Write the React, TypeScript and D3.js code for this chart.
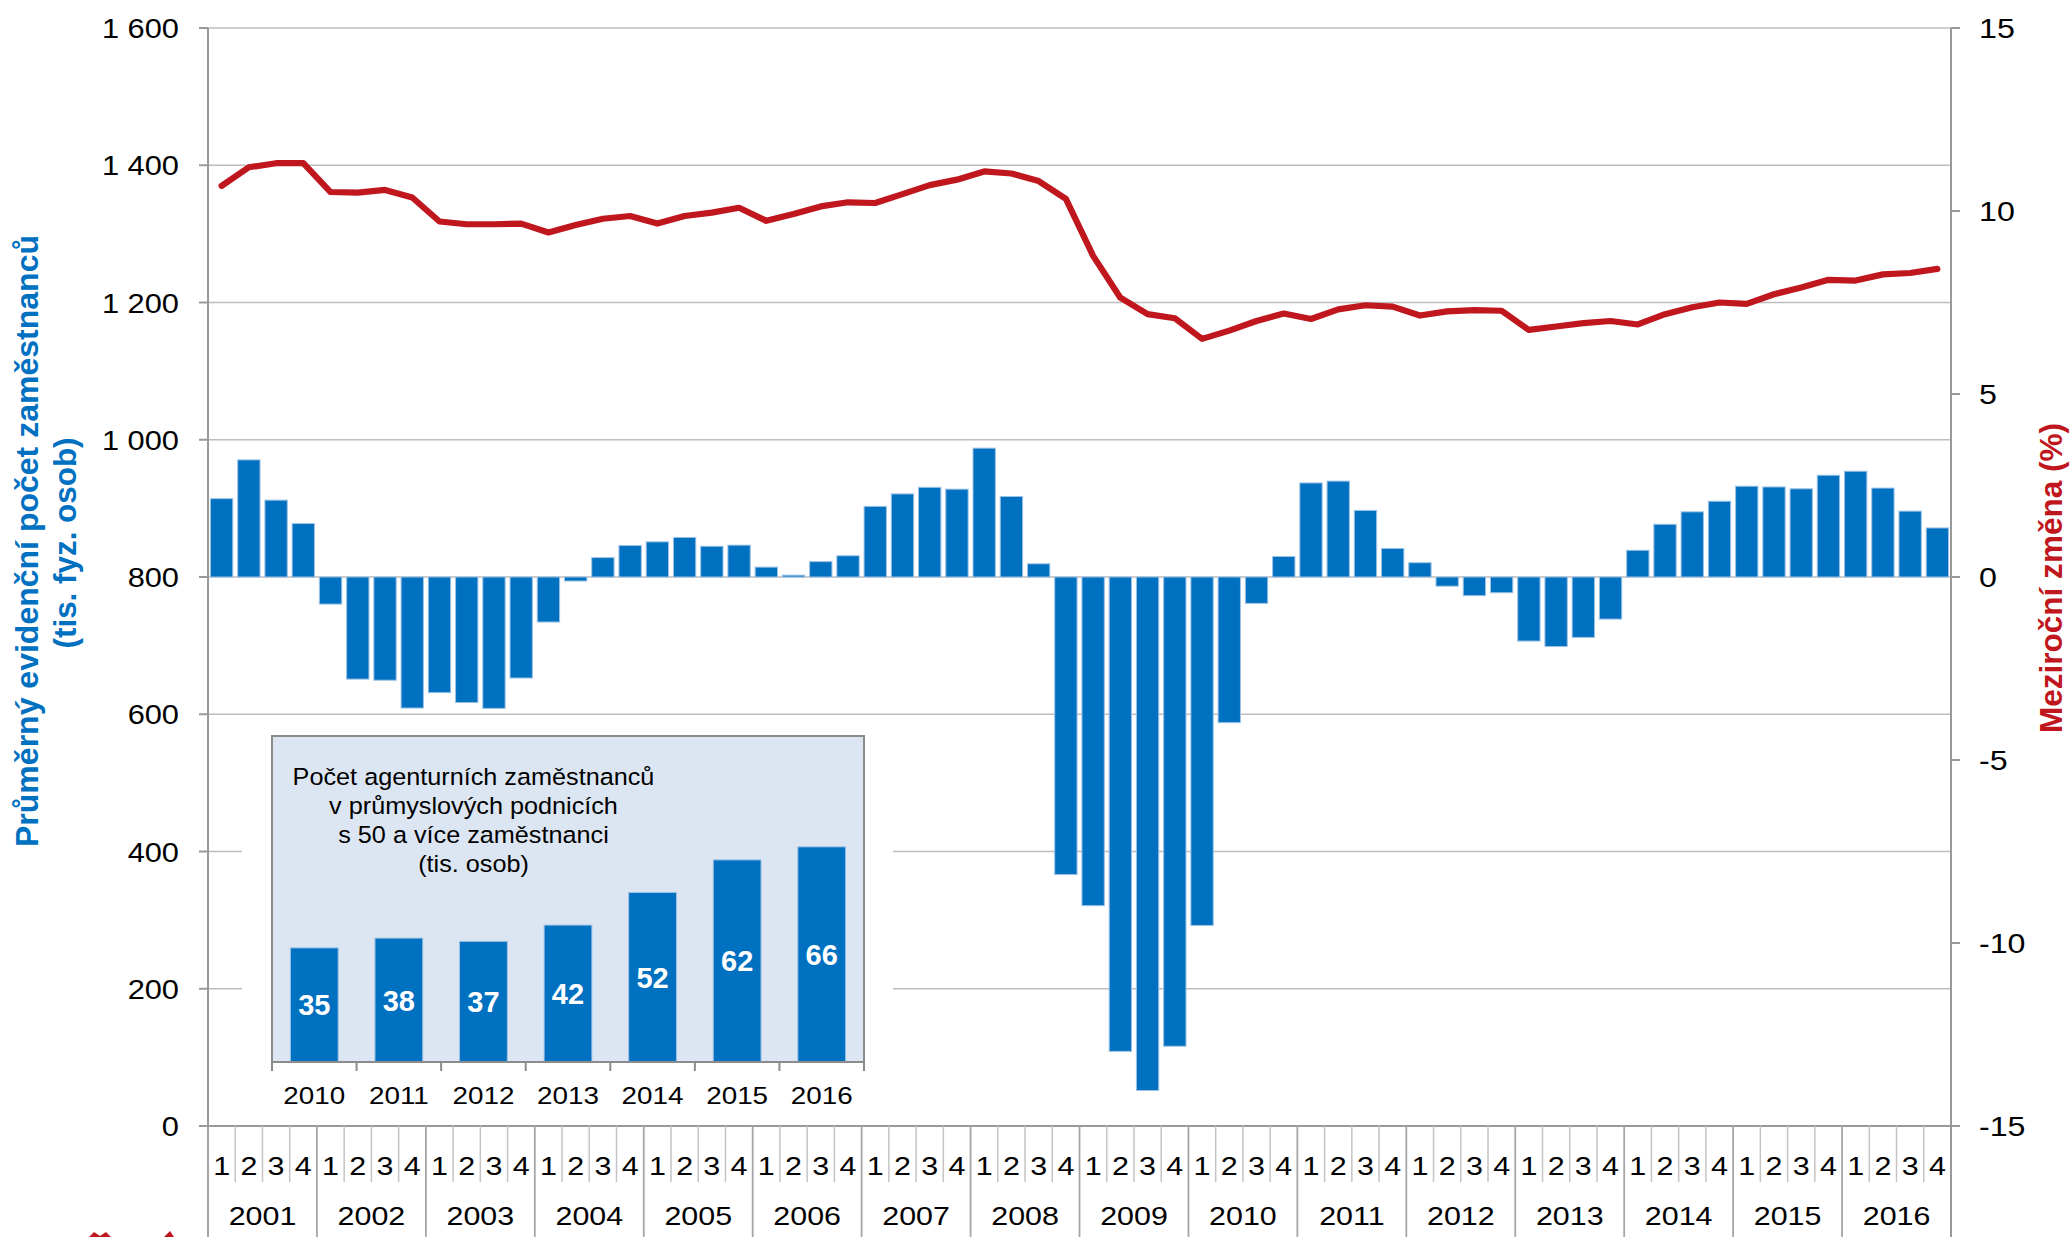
import React from "react";
import * as d3 from "d3";

// quarterly data 2001-2016
const years = ["2001", "2002", "2003", "2004", "2005", "2006", "2007", "2008", "2009", "2010", "2011", "2012", "2013", "2014", "2015", "2016"];
const quarterLabels = ["1", "2", "3", "4"];

// average registered number of employees (thousands), left axis
const employees = [
  1370, 1397, 1403, 1403,
  1361, 1360, 1364, 1353,
  1318, 1314, 1314, 1315,
  1302, 1313, 1322, 1326,
  1315, 1326, 1331, 1338,
  1319, 1329, 1340, 1346,
  1345, 1358, 1371, 1379,
  1391, 1388, 1377, 1351,
  1268, 1207, 1183, 1177,
  1147, 1159, 1173, 1184,
  1176, 1190, 1196, 1194,
  1181, 1187, 1189, 1188,
  1160, 1165, 1170, 1173,
  1168, 1183, 1193, 1200,
  1198, 1212, 1222, 1233,
  1232, 1241, 1243, 1249,
];

// year-on-year change (%), right axis
const yoyChange = [
  2.14, 3.2, 2.1, 1.46,
  -0.74, -2.79, -2.82, -3.58,
  -3.16, -3.43, -3.59, -2.76,
  -1.23, -0.11, 0.53, 0.86,
  0.96, 1.08, 0.84, 0.87,
  0.27, 0.05, 0.42, 0.58,
  1.93, 2.27, 2.45, 2.4,
  3.52, 2.2, 0.36, -8.13,
  -8.98, -12.96, -14.03, -12.82,
  -9.52, -3.98, -0.72, 0.56,
  2.57, 2.62, 1.82, 0.78,
  0.39, -0.25, -0.51, -0.43,
  -1.75, -1.9, -1.65, -1.15,
  0.73, 1.44, 1.78, 2.07,
  2.48, 2.46, 2.41, 2.78,
  2.89, 2.43, 1.8, 1.34,
];

const leftTicks = [0, 200, 400, 600, 800, 1000, 1200, 1400, 1600];
const rightTicks = [-15, -10, -5, 0, 5, 10, 15];

// inset: agency workers in industrial firms with 50+ employees
const insetYears = ["2010", "2011", "2012", "2013", "2014", "2015", "2016"];
const agencyWorkers = [35, 38, 37, 42, 52, 62, 66];
const insetTitle = [
  "Počet agenturních zaměstnanců",
  "v průmyslových podnicích",
  "s 50 a více zaměstnanci",
  "(tis. osob)",
];

const W = 2071;
const H = 1237;
const FONT = "'Liberation Sans', Arial, sans-serif";
const NARROW = "'Liberation Sans Narrow', 'Arial Narrow', 'Liberation Sans', Arial, sans-serif";
const BLUE = "#0070c0";
const RED = "#c0171e";

// the source renders its numbers a bit wider than Arial, so stretch them
function Wide(props: { x: number; y: number; anchor: string; size: number; sx: number; children: React.ReactNode }) {
  const { x, y, anchor, size, sx, children } = props;
  return (
    <text transform={`translate(${x},${y}) scale(${sx},1)`} textAnchor={anchor} fontSize={size} fill="#000">
      {children}
    </text>
  );
}

export default function App() {
  const left = 208, right = 1951, top = 28, bottom = 1126;
  const n = yoyChange.length;

  const x = d3.scaleBand<number>().domain(d3.range(n)).range([left, right]).paddingInner(0.18).paddingOuter(0.09);
  const step = (right - left) / n;
  const yLeft = d3.scaleLinear().domain([0, 1600]).range([bottom, top]);
  const yRight = d3.scaleLinear().domain([-15, 15]).range([bottom, top]);
  const fmt = (v: number) => d3.format(",")(v).replace(/,/g, " ");

  const line = d3
    .line<number>()
    .x((_, i) => (x(i) as number) + x.bandwidth() / 2)
    .y((d) => yLeft(d));

  // inset geometry
  const iL = 272, iR = 864, iT = 736, iB = 1062;
  const xi = d3.scaleBand<string>().domain(insetYears).range([iL, iR]).paddingInner(0.435).paddingOuter(0.2175);
  const yi = d3.scaleLinear().domain([0, 100]).range([iB, iT]);
  const iStep = (iR - iL) / insetYears.length;

  return (
    <svg width={W} height={H} style={{ position: "absolute", left: 0, top: 0, background: "#fff" }} fontFamily={FONT}>
      <rect x={0} y={0} width={W} height={H} fill="#fff" />

      {/* gridlines */}
      {leftTicks.filter((t) => t > 0).map((t) => (
        <line key={"g" + t} x1={left} x2={right} y1={yLeft(t)} y2={yLeft(t)} stroke="#bdbdbd" strokeWidth={1.6} />
      ))}

      {/* bars */}
      {yoyChange.map((v, i) => (
        <rect
          key={"b" + i}
          x={x(i)}
          width={x.bandwidth()}
          y={yRight(Math.max(0, v))}
          height={Math.abs(yRight(v) - yRight(0))}
          fill={BLUE}
          stroke="#9cc2e6"
          strokeWidth={1}
        />
      ))}

      {/* line */}
      <path d={line(employees) || ""} fill="none" stroke={RED} strokeWidth={6.2} strokeLinejoin="round" strokeLinecap="round" />

      {/* left axis */}
      <line x1={left} x2={left} y1={top} y2={H} stroke="#999" strokeWidth={2} />
      {leftTicks.map((t) => (
        <g key={"lt" + t}>
          <line x1={left - 9} x2={left} y1={yLeft(t)} y2={yLeft(t)} stroke="#999" strokeWidth={2} />
          <Wide x={179} y={yLeft(t) + 10} anchor="end" size={28} sx={1.1}>
            {fmt(t)}
          </Wide>
        </g>
      ))}

      {/* right axis */}
      <line x1={right} x2={right} y1={top} y2={H} stroke="#999" strokeWidth={2} />
      {rightTicks.map((t) => (
        <g key={"rt" + t}>
          <line x1={right} x2={right + 9} y1={yRight(t)} y2={yRight(t)} stroke="#999" strokeWidth={2} />
          <Wide x={1979} y={yRight(t) + 10} anchor="start" size={28} sx={1.15}>
            {t}
          </Wide>
        </g>
      ))}

      {/* category axis */}
      <line x1={left - 9} x2={right} y1={bottom} y2={bottom} stroke="#999" strokeWidth={2} />
      {d3.range(n).map((i) =>
        i % 4 !== 0 ? (
          <line key={"qs" + i} x1={left + i * step} x2={left + i * step} y1={bottom} y2={1182} stroke="#c4c4c4" strokeWidth={1.5} />
        ) : (
          <line key={"ys" + i} x1={left + i * step} x2={left + i * step} y1={bottom} y2={H} stroke="#a6a6a6" strokeWidth={1.8} />
        )
      )}
      {d3.range(n).map((i) => (
        <Wide key={"ql" + i} x={left + (i + 0.5) * step} y={1174.5} anchor="middle" size={26.5} sx={1.15}>
          {quarterLabels[i % 4]}
        </Wide>
      ))}
      {years.map((yr, k) => (
        <Wide key={"yl" + yr} x={left + (k * 4 + 2) * step} y={1224.5} anchor="middle" size={26} sx={1.17}>
          {yr}
        </Wide>
      ))}

      {/* axis titles */}
      <g transform="translate(38,541) rotate(-90)">
        <text textAnchor="middle" fontSize={31} fontWeight="bold" fontFamily={NARROW} fill={BLUE} textLength={612} lengthAdjust="spacingAndGlyphs">
          Průměrný evidenční počet zaměstnanců
        </text>
      </g>
      <g transform="translate(76,543) rotate(-90)">
        <text textAnchor="middle" fontSize={31} fontWeight="bold" fontFamily={NARROW} fill={BLUE} textLength={211} lengthAdjust="spacingAndGlyphs">
          (tis. fyz. osob)
        </text>
      </g>
      <g transform="translate(2062,578) rotate(-90)">
        <text textAnchor="middle" fontSize={31} fontWeight="bold" fontFamily={NARROW} fill={RED} textLength={310} lengthAdjust="spacingAndGlyphs">
          Meziroční změna (%)
        </text>
      </g>

      {/* inset chart */}
      <rect x={242} y={722} width={651} height={398} fill="#fff" />
      <rect x={iL} y={iT} width={iR - iL} height={iB - iT} fill="#dce6f2" stroke="#8c8c8c" strokeWidth={2} />
      {insetTitle.map((s, k) => (
        <Wide key={"it" + k} x={473.5} y={785 + k * 29} anchor="middle" size={24.5} sx={1.03}>
          {s}
        </Wide>
      ))}
      {agencyWorkers.map((v, k) => {
        const bx = xi(insetYears[k]) as number;
        return (
          <g key={"ib" + k}>
            <rect x={bx} width={xi.bandwidth()} y={yi(v)} height={iB - yi(v)} fill={BLUE} stroke="#9cc2e6" strokeWidth={1} />
            <text x={bx + xi.bandwidth() / 2} y={(yi(v) + iB) / 2 + 10.5} textAnchor="middle" fontSize={29} fontWeight="bold" fill="#fff">
              {v}
            </text>
          </g>
        );
      })}
      <line x1={iL} x2={iR} y1={iB} y2={iB} stroke="#8c8c8c" strokeWidth={2} />
      {d3.range(insetYears.length + 1).map((k) => (
        <line key={"itk" + k} x1={iL + k * iStep} x2={iL + k * iStep} y1={iB} y2={iB + 9} stroke="#8c8c8c" strokeWidth={2} />
      ))}
      {insetYears.map((yr) => (
        <Wide key={"iy" + yr} x={(xi(yr) as number) + xi.bandwidth() / 2} y={1104} anchor="middle" size={24} sx={1.16}>
          {yr}
        </Wide>
      ))}

      {/* tips of the red logo, cut off by the bottom edge */}
      <path d="M89,1237 L94,1232 L100,1236 L106,1232 L111,1237 Z M164,1237 L170,1231 L174,1237 Z" fill={RED} />
    </svg>
  );
}
